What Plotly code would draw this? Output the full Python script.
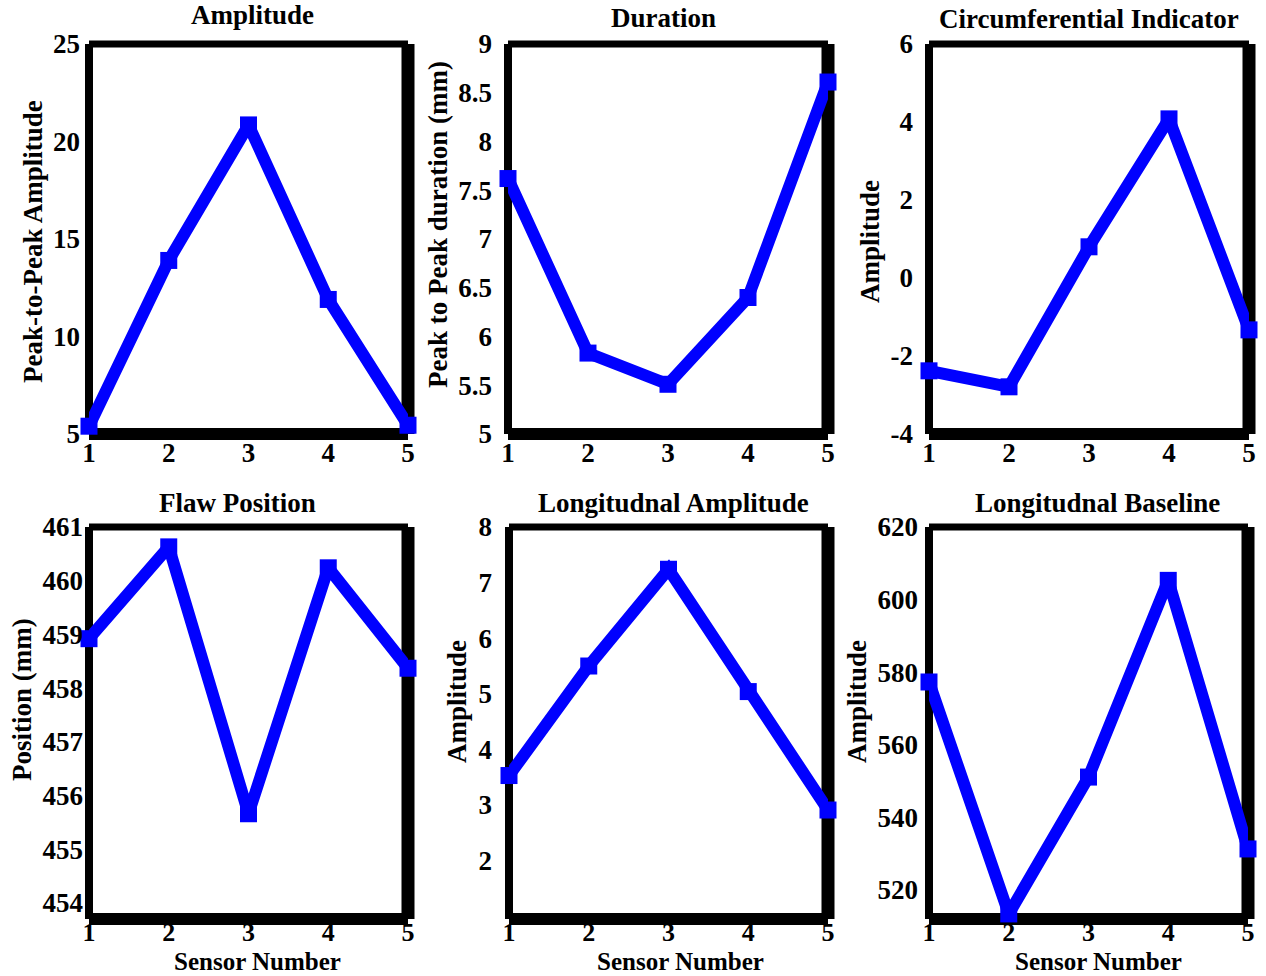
import plotly.graph_objects as go

sensors = [1, 2, 3, 4, 5]
amplitude = [5.4, 13.9, 20.85, 11.9, 5.45]
duration = [7.62, 5.83, 5.51, 6.4, 8.61]
circ_indicator = [-2.38, -2.79, 0.8, 4.08, -1.33]
flaw_position = [458.92, 460.63, 455.66, 460.24, 458.37]
long_amplitude = [3.53, 5.5, 7.24, 5.04, 2.91]
long_baseline = [577.3, 513.4, 551.1, 605.3, 531.3]

titles = ["Amplitude", "Duration", "Circumferential Indicator",
          "Flaw Position", "Longitudnal Amplitude", "Longitudnal Baseline"]
ytitles = ["Peak-to-Peak Amplitude", "Peak to Peak duration (mm)", "Amplitude",
           "Position (mm)", "Amplitude", "Amplitude"]
xtitle = "Sensor Number"

yticks = [
    [5, 10, 15, 20, 25],
    [5, 5.5, 6, 6.5, 7, 7.5, 8, 8.5, 9],
    [-4, -2, 0, 2, 4, 6],
    [454, 455, 456, 457, 458, 459, 460, 461],
    [2, 3, 4, 5, 6, 7, 8],
    [520, 540, 560, 580, 600, 620],
]
yranges = [[5, 25], [5, 9], [-4, 6], [453.7, 461], [0.95, 8], [512, 620]]
series = [amplitude, duration, circ_indicator, flaw_position, long_amplitude, long_baseline]

W, H = 1266, 976
# pixel frames (left, right, top, bottom) - frame line centres
frames = [
    (89, 408, 44, 434), (508, 828, 44, 434), (929, 1249, 44, 434),
    (89, 408, 527, 919), (509, 828, 527, 919), (929, 1248, 527, 919),
]
ystandoff = [8, 15, 15, 5, 16, 10]
xstandoff = [0, 0, 0, -5, -5, -5]
xtick_size = [27, 27, 27, 26, 26, 26]
title_pos = [(252, 15), (663, 18), (1089, 19), (237, 503), (673, 503), (1097, 503)]
ytitle_pos = [(33, 242), (438, 225), (870, 242), (22, 700), (457, 702), (857, 702)]
xtitle_pos = [(257, 961), (680, 961), (1098, 961)]

FONT = "Liberation Serif"
fig = go.Figure()
annotations = []
shapes = []
for i in range(6):
    k = "" if i == 0 else str(i + 1)
    l, r, t, b = frames[i]
    fig.add_trace(go.Scatter(
        x=sensors, y=series[i], mode="lines+markers",
        line=dict(color="#0000ff", width=12),
        marker=dict(symbol="square", size=17, color="#0000ff"),
        cliponaxis=False, showlegend=False,
        xaxis="x" + k, yaxis="y" + k,
    ))
    axcommon = dict(showline=False, showgrid=False, zeroline=False, ticks="")
    fig.layout["xaxis" + k] = dict(domain=[l / W, r / W], range=[1, 5],
                                   tickvals=sensors, anchor="y" + k,
                                   ticklabelstandoff=xstandoff[i],
                                   tickfont=dict(family=FONT, size=xtick_size[i], color="black", weight="bold"),
                                   **axcommon)
    fig.layout["yaxis" + k] = dict(domain=[1 - b / H, 1 - t / H], range=yranges[i],
                                   tickvals=yticks[i], ticktext=[str(v) for v in yticks[i]],
                                   anchor="x" + k, ticklabelstandoff=ystandoff[i],
                                   tickfont=dict(family=FONT, size=27, color="black", weight="bold"),
                                   **axcommon)
    xr, yr = "x" + k + " domain", "y" + k + " domain"
    # frame: left, top, right, bottom
    for (x0, y0, x1, y1, w) in [(0, 0, 0, 1, 8), (0, 1, 1, 1, 7), (1, 0, 1, 1, 13), (0, 0, 1, 0, 12)]:
        shapes.append(dict(type="line", xref=xr, yref=yr, x0=x0, y0=y0, x1=x1, y1=y1,
                           line=dict(color="black", width=w), layer="below"))
    tx, ty = title_pos[i]
    annotations.append(dict(text=titles[i], x=tx / W, y=1 - ty / H, xref="paper", yref="paper",
                            xanchor="center", yanchor="middle", showarrow=False,
                            font=dict(family=FONT, size=27, color="black", weight="bold")))
    yx, yy = ytitle_pos[i]
    annotations.append(dict(text=ytitles[i], x=yx / W, y=1 - yy / H, xref="paper", yref="paper",
                            xanchor="center", yanchor="middle", showarrow=False, textangle=-90,
                            font=dict(family=FONT, size=27, color="black", weight="bold")))
for (xx, xy) in xtitle_pos:
    annotations.append(dict(text=xtitle, x=xx / W, y=1 - xy / H, xref="paper", yref="paper",
                            xanchor="center", yanchor="middle", showarrow=False,
                            font=dict(family=FONT, size=25, color="black", weight="bold")))

fig.update_layout(width=W, height=H,
                  margin=dict(l=0, r=0, t=0, b=0, pad=0, autoexpand=False),
                  plot_bgcolor="white", paper_bgcolor="white",
                  annotations=annotations, shapes=shapes)
fig.write_html("out.html")
